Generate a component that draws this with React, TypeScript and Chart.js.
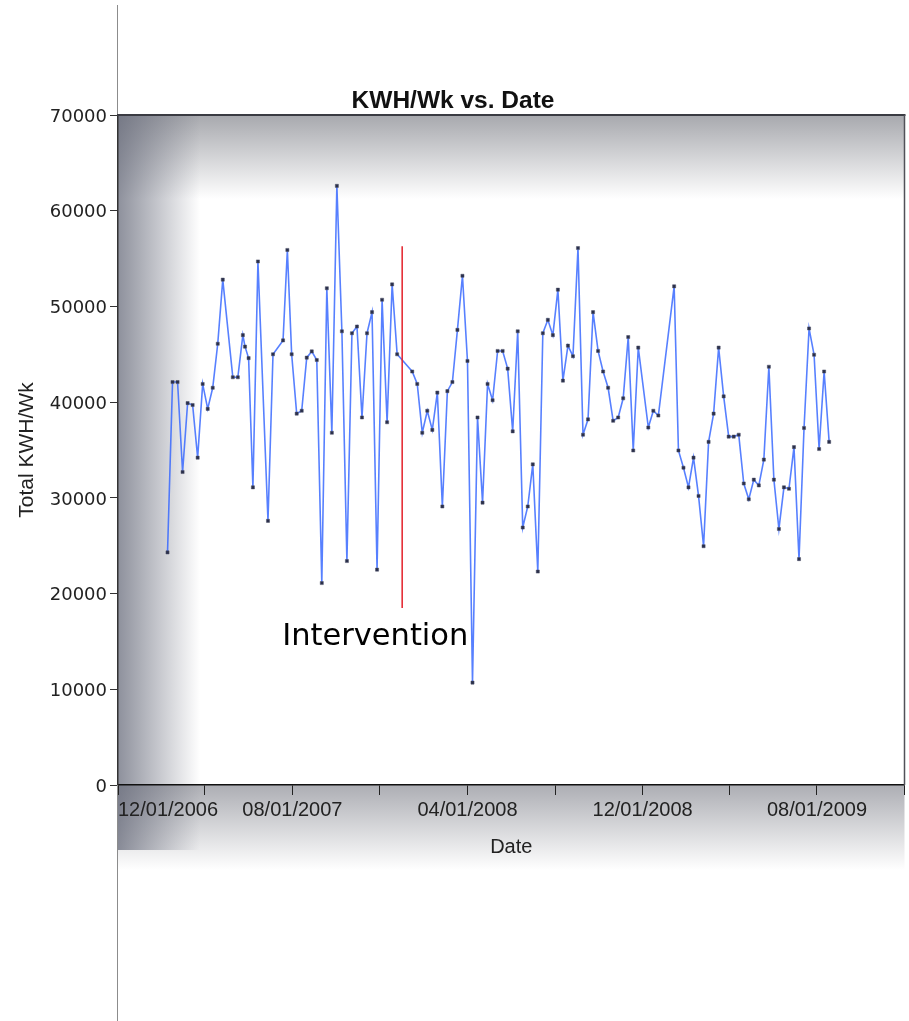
import React, { useEffect, useRef } from 'react';
import { Chart, registerables } from 'chart.js';

Chart.register(...registerables);

// ---- data ----
const dates: string[] = [
  '2007-02-08', '2007-02-15', '2007-02-22', '2007-03-01', '2007-03-08', '2007-03-15', '2007-03-22', '2007-03-29',
  '2007-04-05', '2007-04-12', '2007-04-19', '2007-04-26', '2007-05-10', '2007-05-17', '2007-05-24', '2007-05-27',
  '2007-06-01', '2007-06-07', '2007-06-14', '2007-06-28', '2007-07-05', '2007-07-19', '2007-07-25', '2007-07-31',
  '2007-08-07', '2007-08-14', '2007-08-21', '2007-08-28', '2007-09-04', '2007-09-11', '2007-09-18', '2007-09-25',
  '2007-10-02', '2007-10-09', '2007-10-16', '2007-10-23', '2007-10-30', '2007-11-06', '2007-11-13', '2007-11-20',
  '2007-11-27', '2007-12-04', '2007-12-11', '2007-12-18', '2007-12-25',
  '2008-01-15', '2008-01-22', '2008-01-29', '2008-02-05', '2008-02-12', '2008-02-19', '2008-02-26', '2008-03-04',
  '2008-03-11', '2008-03-18', '2008-03-25', '2008-04-01', '2008-04-08', '2008-04-15', '2008-04-22', '2008-04-29',
  '2008-05-06', '2008-05-13', '2008-05-20', '2008-05-27', '2008-06-03', '2008-06-10', '2008-06-17', '2008-06-24',
  '2008-07-01', '2008-07-08', '2008-07-15', '2008-07-22', '2008-07-29', '2008-08-05', '2008-08-12', '2008-08-19',
  '2008-08-26', '2008-09-02', '2008-09-09', '2008-09-16', '2008-09-23', '2008-09-30', '2008-10-07', '2008-10-14',
  '2008-10-21', '2008-10-28', '2008-11-04', '2008-11-11', '2008-11-18', '2008-11-25', '2008-12-09', '2008-12-16',
  '2008-12-23',
  '2009-01-14', '2009-01-20', '2009-01-27', '2009-02-03', '2009-02-10', '2009-02-17', '2009-02-24', '2009-03-03',
  '2009-03-10', '2009-03-17', '2009-03-24', '2009-03-31', '2009-04-07', '2009-04-14', '2009-04-21', '2009-04-28',
  '2009-05-05', '2009-05-12', '2009-05-19', '2009-05-26', '2009-06-02', '2009-06-09', '2009-06-16', '2009-06-23',
  '2009-06-30', '2009-07-07', '2009-07-14', '2009-07-21', '2009-07-28', '2009-08-04', '2009-08-11', '2009-08-18',
];

const kwhPerWeek: number[] = [
  24300, 42100, 42100, 32700, 39900, 39700, 34200, 41900, 39300, 41500, 46100, 52800, 42600, 42600, 47000, 45800,
  44600, 31100, 54700, 27600, 45000, 46450, 55900, 45000, 38800, 39100, 44650, 45300, 44400, 21100, 51900, 36800,
  62600, 47400, 23400, 47200, 47900, 38400, 47200, 49400, 22500, 50700, 37900, 52300, 45000,
  43200, 41900, 36800, 39100, 37100, 41000, 29100, 41150, 42100, 47550, 53200, 44300, 10700, 38400, 29500, 41900,
  40200, 45350, 45350, 43500, 36950, 47400, 26900, 29100, 33500, 22300, 47200, 48600, 47000, 51750, 42250, 45900,
  44800, 56100, 36600, 38200, 49400, 45350, 43200, 41500, 38050, 38400, 40400, 46800, 34950, 45700, 37350, 39100,
  38600,
  52100, 34950, 33150, 31100, 34200, 30200, 24950, 35850, 38800, 45700, 40600, 36400, 36400, 36600, 31500, 29850,
  31900, 31300, 34000, 43700, 31900, 26750, 31100, 30950, 35300, 23600, 37300, 47700, 44950, 35100, 43200, 35850,
];

const xTickDates: string[] = [
  '2006-12-01', '2007-04-01', '2007-08-01', '2007-12-01', '2008-04-01',
  '2008-08-01', '2008-12-01', '2009-04-01', '2009-08-01', '2009-12-01',
];

const yMin = 0;
const yMax = 70000;
const yStep = 10000;

const interventionDate = '2008-01-01';
const interventionLineRange: number[] = [18500, 56300];
const interventionLabelValue = 14600;

const chartTitle = 'KWH/Wk vs. Date';
const xTitle = 'Date';
const yTitle = 'Total KWH/Wk';
const interventionLabel = 'Intervention';

// ---- helpers ----
const toTime = (s: string) => Date.UTC(+s.slice(0, 4), +s.slice(5, 7) - 1, +s.slice(8, 10));
const pad2 = (n: number) => (n < 10 ? '0' + n : String(n));
const fmtDate = (v: number) => {
  const d = new Date(v);
  return pad2(d.getUTCMonth() + 1) + '/' + pad2(d.getUTCDate()) + '/' + d.getUTCFullYear();
};

const framePlugin = {
  id: 'frameDecor',
  beforeDraw(chart: any) {
    const { ctx, chartArea: a, width, height } = chart;
    const L = a.left, R = a.right, T = a.top, B = a.bottom;
    ctx.save();
    ctx.fillStyle = '#ffffff';
    ctx.fillRect(0, 0, width, height);

    // band below the x axis
    let g = ctx.createLinearGradient(0, B, 0, B + 85);
    g.addColorStop(0, 'rgba(118,120,130,0.6)');
    g.addColorStop(1, 'rgba(118,120,130,0)');
    ctx.fillStyle = g;
    ctx.fillRect(L, B, R - L, 85);

    // top band
    g = ctx.createLinearGradient(0, T, 0, T + 84);
    g.addColorStop(0, 'rgba(118,120,128,0.64)');
    g.addColorStop(1, 'rgba(118,120,128,0)');
    ctx.fillStyle = g;
    ctx.fillRect(L, T, R - L, 84);

    // left band
    g = ctx.createLinearGradient(L, 0, L + 82, 0);
    g.addColorStop(0, 'rgba(98,102,118,0.72)');
    g.addColorStop(1, 'rgba(98,102,118,0)');
    ctx.fillStyle = g;
    ctx.fillRect(L, T, 82, B + 65 - T);
    ctx.restore();
  },
  afterDatasetsDraw(chart: any) {
    const { ctx, scales } = chart;
    const x = scales.x.getPixelForValue(toTime(interventionDate));
    const y1 = scales.y.getPixelForValue(interventionLineRange[0]);
    const y2 = scales.y.getPixelForValue(interventionLineRange[1]);
    ctx.save();
    ctx.strokeStyle = '#e3202a';
    ctx.lineWidth = 1.5;
    ctx.beginPath();
    ctx.moveTo(x, y1);
    ctx.lineTo(x, y2);
    ctx.stroke();
    ctx.fillStyle = '#000000';
    ctx.font = '30.5px "DejaVu Sans", Verdana, sans-serif';
    ctx.textAlign = 'left';
    ctx.textBaseline = 'alphabetic';
    ctx.fillText(interventionLabel, x - 120, scales.y.getPixelForValue(interventionLabelValue));
    ctx.restore();
  },
  afterDraw(chart: any) {
    const { ctx, chartArea: a, height } = chart;
    ctx.save();
    // thin page rule continuing the y axis
    ctx.strokeStyle = '#8c8c8c';
    ctx.lineWidth = 1;
    ctx.beginPath();
    ctx.moveTo(a.left - 0.5, 5);
    ctx.lineTo(a.left - 0.5, a.top);
    ctx.moveTo(a.left - 0.5, a.bottom);
    ctx.lineTo(a.left - 0.5, height);
    ctx.stroke();
    // top and right frame
    ctx.strokeStyle = '#3a3b42';
    ctx.lineWidth = 2;
    ctx.beginPath();
    ctx.moveTo(a.left - 1, a.top);
    ctx.lineTo(a.right + 1, a.top);
    ctx.stroke();
    ctx.strokeStyle = '#505158';
    ctx.lineWidth = 1.5;
    ctx.beginPath();
    ctx.moveTo(a.right, a.top);
    ctx.lineTo(a.right, a.bottom);
    ctx.stroke();
    ctx.restore();
  },
};

export default function App() {
  const canvasRef = useRef<HTMLCanvasElement | null>(null);

  useEffect(() => {
    if (!canvasRef.current) return;
    const points = dates.map((d, i) => ({ x: toTime(d), y: kwhPerWeek[i] }));
    const chart = new Chart(canvasRef.current, {
      type: 'line',
      data: {
        datasets: [
          {
            label: 'KWH/Wk',
            data: points,
            borderColor: 'rgba(50,100,255,0.82)',
            borderWidth: 1.6,
            pointStyle: 'rect',
            pointRadius: 2.2,
            pointBackgroundColor: '#2a2f4a',
            pointBorderColor: '#4a4f66',
            pointBorderWidth: 0.5,
            tension: 0,
            fill: false,
          },
        ],
      },
      options: {
        animation: false,
        responsive: true,
        maintainAspectRatio: false,
        layout: { padding: { left: 0, right: 3, top: 0, bottom: 146 } },
        plugins: {
          legend: { display: false },
          tooltip: { enabled: false },
          title: {
            display: true,
            text: chartTitle,
            color: '#111111',
            font: { family: '"Liberation Sans", Arial, sans-serif', size: 24.5, weight: 'bold', lineHeight: 1 },
            padding: { top: 89, bottom: 1.5 },
          },
        },
        scales: {
          x: {
            type: 'linear',
            min: toTime(xTickDates[0]),
            max: toTime(xTickDates[xTickDates.length - 1]),
            afterBuildTicks: (scale: any) => {
              scale.ticks = xTickDates.map((d) => ({ value: toTime(d) }));
            },
            afterFit: (scale: any) => {
              scale.height = 90;
            },
            border: { display: true, color: '#111111', width: 1.5 },
            grid: { drawOnChartArea: false, drawTicks: true, tickLength: 10, color: '#222222' },
            ticks: {
              autoSkip: false,
              maxRotation: 0,
              minRotation: 0,
              align: 'inner',
              padding: 0,
              color: '#222222',
              font: { family: '"Liberation Sans", Arial, sans-serif', size: 20, lineHeight: 1.5 },
              callback: (value: any, index: number) => (index % 2 === 0 ? fmtDate(Number(value)) : ''),
            },
            title: {
              display: true,
              text: xTitle,
              color: '#222222',
              font: { family: '"Liberation Sans", Arial, sans-serif', size: 20 },
              padding: { top: 0, bottom: 16 },
            },
          },
          y: {
            type: 'linear',
            min: yMin,
            max: yMax,
            afterFit: (scale: any) => {
              scale.width = 118;
            },
            border: { display: true, color: '#333333', width: 1.5 },
            grid: { drawOnChartArea: false, drawTicks: true, tickLength: 8, color: '#333333' },
            ticks: {
              stepSize: yStep,
              padding: 3,
              labelOffset: 2,
              color: '#222222',
              font: { family: '"DejaVu Sans", Verdana, sans-serif', size: 18 },
              callback: (value: any) => String(value),
            },
            title: {
              display: true,
              text: yTitle,
              color: '#222222',
              font: { family: '"Liberation Sans", Arial, sans-serif', size: 21 },
              padding: { top: 15, bottom: 0 },
            },
          },
        },
      },
      plugins: [framePlugin],
    } as any);
    return () => chart.destroy();
  }, []);

  return (
    <div style={{ position: 'absolute', left: 0, top: 0, width: 909, height: 1021 }}>
      <canvas ref={canvasRef} />
    </div>
  );
}
